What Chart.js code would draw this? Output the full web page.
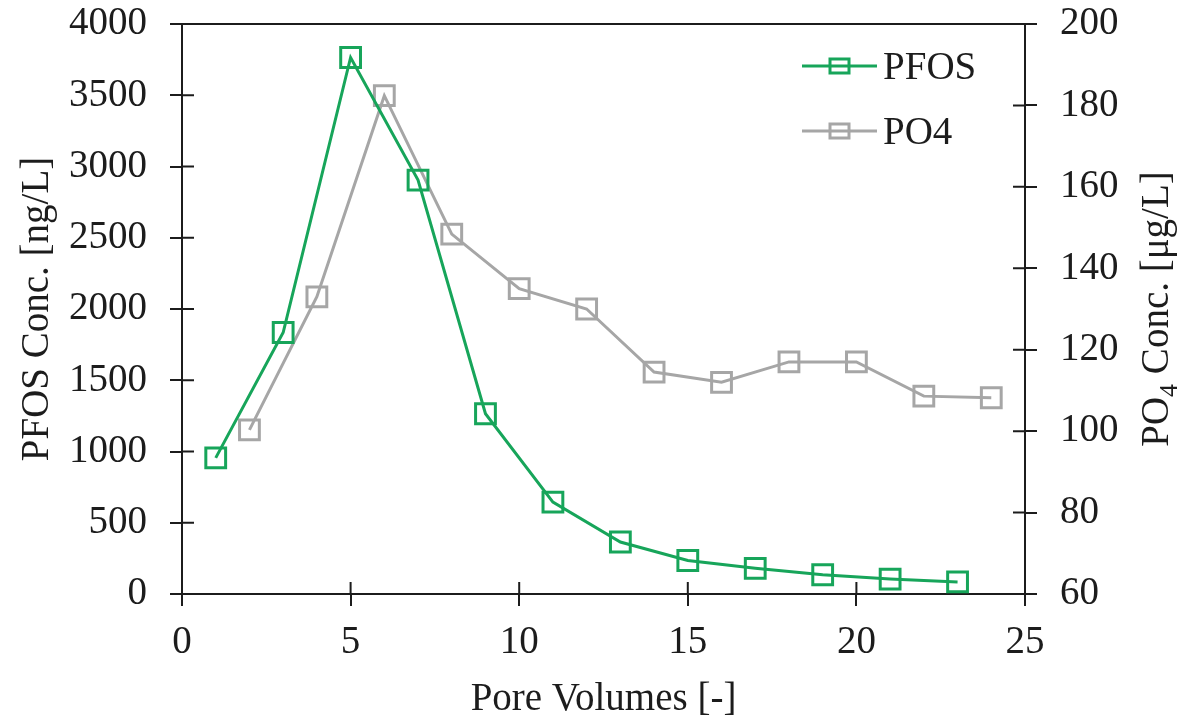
<!DOCTYPE html>
<html>
<head>
<meta charset="utf-8">
<script src="https://cdn.jsdelivr.net/npm/chart.js@4.4.1/dist/chart.umd.min.js"></script>
<style>
  html, body { margin: 0; padding: 0; background: #ffffff; }
  #wrap { width: 1202px; height: 720px; }
</style>
</head>
<body>
<div id="wrap"><canvas id="c" width="1202" height="720"></canvas></div>
<script>
// ---- Data ----
const pfosX = [1, 3, 5, 7, 9, 11, 13, 15, 17, 19, 21, 23];
const pfosY = [955, 1835, 3765, 2905, 1265, 645, 365, 235, 180, 135, 105, 85];
const po4X = [2, 4, 6, 8, 10, 12, 14, 16, 18, 20, 22, 24];
const po4Y = [100.3, 133, 182.4, 148.4, 135, 130, 114.5, 112, 117, 117, 108.6, 108.2];

const xTitle = 'Pore Volumes [-]';
const leftTitle = 'PFOS Conc. [ng/L]';
const rightTitleParts = ['PO', '4', ' Conc. [\u03bcg/L]'];
const seriesNames = ['PFOS', 'PO4'];

const GREEN = '#17a55a';
const GRAY = '#a6a6a6';
const INK = '#1c1c1c';
const FONT = '"Liberation Serif", "Times New Roman", serif';
const FS = 39;

const plainTick = v => String(v);

const axisCommon = {
  grid: { display: true, drawOnChartArea: false, drawTicks: true, tickLength: 12, color: INK, tickColor: INK, lineWidth: 2, tickWidth: 2 },
  border: { display: true, color: INK, width: 2 },
  title: { display: false }
};

// Plugin: inner tick halves, top border, axis titles, legend
const decor = {
  id: 'decor',
  afterDraw(chart) {
    const ctx = chart.ctx;
    const a = chart.chartArea;
    const sx = chart.scales.x, sy = chart.scales.y, sy1 = chart.scales.y1;
    ctx.save();
    ctx.strokeStyle = INK;
    ctx.lineWidth = 2;
    ctx.beginPath();
    // top border
    ctx.moveTo(a.left, a.top); ctx.lineTo(a.right, a.top);
    // inner ticks
    sx.ticks.forEach(t => { const p = sx.getPixelForValue(t.value); ctx.moveTo(p, a.bottom); ctx.lineTo(p, a.bottom - 12); });
    sy.ticks.forEach(t => { const p = sy.getPixelForValue(t.value); ctx.moveTo(a.left, p); ctx.lineTo(a.left + 12, p); });
    sy1.ticks.forEach(t => { const p = sy1.getPixelForValue(t.value); ctx.moveTo(a.right, p); ctx.lineTo(a.right - 12, p); });
    ctx.stroke();

    ctx.fillStyle = INK;
    ctx.font = FS + 'px ' + FONT;
    ctx.textBaseline = 'alphabetic';
    // x title
    ctx.textAlign = 'center';
    ctx.fillText(xTitle, (a.left + a.right) / 2, 710);

    const cy = (a.top + a.bottom) / 2;
    // left title
    ctx.save();
    ctx.translate(48, cy);
    ctx.rotate(-Math.PI / 2);
    ctx.textAlign = 'center';
    ctx.fillText(leftTitle, 0, 0);
    ctx.restore();

    // right title with subscript
    ctx.save();
    ctx.translate(1168, cy);
    ctx.rotate(-Math.PI / 2);
    ctx.textAlign = 'left';
    const subFont = '26px ' + FONT;
    const mainFont = FS + 'px ' + FONT;
    ctx.font = mainFont;
    const w0 = ctx.measureText(rightTitleParts[0]).width;
    const w2 = ctx.measureText(rightTitleParts[2]).width;
    ctx.font = subFont;
    const w1 = ctx.measureText(rightTitleParts[1]).width;
    let x0 = -(w0 + w1 + w2) / 2;
    ctx.font = mainFont;
    ctx.fillText(rightTitleParts[0], x0, 0);
    ctx.font = subFont;
    ctx.fillText(rightTitleParts[1], x0 + w0, 9);
    ctx.font = mainFont;
    ctx.fillText(rightTitleParts[2], x0 + w0 + w1, 0);
    ctx.restore();

    // legend
    const rows = [
      { name: seriesNames[0], color: GREEN, y: 66 },
      { name: seriesNames[1], color: GRAY, y: 131 }
    ];
    rows.forEach(r => {
      ctx.strokeStyle = r.color;
      ctx.lineWidth = 3;
      ctx.beginPath();
      ctx.moveTo(802, r.y); ctx.lineTo(877, r.y);
      ctx.stroke();
      ctx.lineWidth = 3;
      ctx.strokeRect(830, r.y - 7, 19, 14);
      ctx.fillStyle = INK;
      ctx.font = mainFont;
      ctx.textAlign = 'left';
      ctx.fillText(r.name, 883, r.y + 13);
    });
    ctx.restore();
  }
};

function fitY(width) {
  return function (s) {
    s.width = width;
    s.paddingTop = 0;
    s.paddingBottom = 0;
  };
}

const chart = new Chart(document.getElementById('c'), {
  type: 'line',
  data: {
    datasets: [
      {
        label: seriesNames[0],
        data: pfosX.map((x, i) => ({ x: x, y: pfosY[i] })),
        yAxisID: 'y',
        borderColor: GREEN, borderWidth: 3,
        pointStyle: 'rect', pointRadius: 14, pointBorderWidth: 3,
        pointBorderColor: GREEN, pointBackgroundColor: 'rgba(0,0,0,0)',
        tension: 0, fill: false
      },
      {
        label: seriesNames[1],
        data: po4X.map((x, i) => ({ x: x, y: po4Y[i] })),
        yAxisID: 'y1',
        borderColor: GRAY, borderWidth: 3,
        pointStyle: 'rect', pointRadius: 14, pointBorderWidth: 3,
        pointBorderColor: GRAY, pointBackgroundColor: 'rgba(0,0,0,0)',
        tension: 0, fill: false
      }
    ]
  },
  options: {
    responsive: false,
    animation: false,
    clip: false,
    layout: { padding: { top: 24, left: 0, right: 0, bottom: 0 } },
    plugins: { legend: { display: false }, tooltip: { enabled: false } },
    scales: {
      x: Object.assign({}, axisCommon, {
        type: 'linear', min: 0, max: 25,
        ticks: { stepSize: 5, color: INK, font: { family: FONT, size: FS }, padding: 13, maxRotation: 0, callback: plainTick },
        afterFit(s) { s.height = 126; s.paddingLeft = 0; s.paddingRight = 0; }
      }),
      y: Object.assign({}, axisCommon, {
        type: 'linear', position: 'left', min: 0, max: 4000,
        ticks: { stepSize: 500, color: INK, font: { family: FONT, size: FS }, padding: 23, callback: plainTick },
        afterFit: fitY(182)
      }),
      y1: Object.assign({}, axisCommon, {
        type: 'linear', position: 'right', min: 60, max: 200,
        ticks: { stepSize: 20, color: INK, font: { family: FONT, size: FS }, padding: 23, callback: plainTick },
        afterFit: fitY(177)
      })
    }
  },
  plugins: [decor]
});
</script>
</body>
</html>
